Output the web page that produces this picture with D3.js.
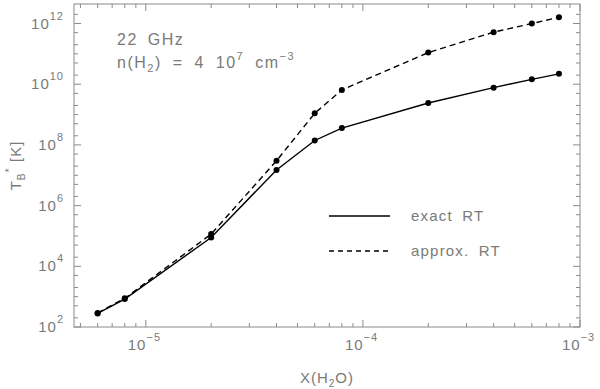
<!DOCTYPE html>
<html>
<head>
<meta charset="utf-8">
<script src="https://cdn.jsdelivr.net/npm/d3@7"></script>
<style>
  body { margin: 0; background: #fff; }
  text { font-family: "Liberation Sans", "DejaVu Sans", sans-serif; fill: #7a7a7a; }
</style>
</head>
<body>
<div id="chart"></div>
<script>
// abundances X(H2O)
var xvals = [6e-6, 8e-6, 2e-5, 4e-5, 6e-5, 8e-5, 2e-4, 4e-4, 6e-4, 8e-4];
// brightness temperature, exact radiative transfer
var exact = [2.8e2, 8.3e2, 8.9e4, 1.5e7, 1.4e8, 3.6e8, 2.4e9, 7.7e9, 1.45e10, 2.2e10];
// brightness temperature, approximate radiative transfer
var approx = [2.9e2, 8.8e2, 1.15e5, 3.0e7, 1.1e9, 6.5e9, 1.1e11, 5.2e11, 1.0e12, 1.6e12];

var xMajor = [-5, -4, -3];          // labelled exponents on x
var yMajor = [2, 4, 6, 8, 10, 12];  // labelled exponents on y
var legendNames = ['exact RT', 'approx. RT'];

var width = 600;
var height = 389;

// plot box (note: "top" is a reserved window property, so use p_* names)
var p_left = 74, p_right = 580, p_top = 4, p_bottom = 327;

var x = d3.scaleLog()
    .domain([4.67e-6, 1e-3])
    .range([p_left, p_right]);

var y = d3.scaleLog()
    .domain([1e2, 4.4e12])
    .range([p_bottom, p_top]);

var svg = d3.select('#chart')
  .append('svg')
    .attr('width', width)
    .attr('height', height);

var axisColor = '#8a8a8a';

// frame
svg.append('rect')
    .attr('x', p_left)
    .attr('y', p_top)
    .attr('width', p_right - p_left)
    .attr('height', p_bottom - p_top)
    .attr('fill', 'none')
    .attr('stroke', axisColor)
    .attr('stroke-width', 1);

// x ticks: 1..9 per decade
var xTicks = [];
for(var e = -6; e <= -3; e++) {
    for(var m = 1; m <= 9; m++) {
        var v = m * Math.pow(10, e);
        if(v >= x.domain()[0] && v <= x.domain()[1] * 1.0001) {
            xTicks.push({v: v, major: m == 1});
        }
    }
}

svg.append('g')
    .selectAll('line.xtick-b')
    .data(xTicks)
  .enter()
    .append('line')
    .attr('stroke', axisColor)
    .attr('x1', function(d) { return x(d.v); })
    .attr('x2', function(d) { return x(d.v); })
    .attr('y1', p_bottom)
    .attr('y2', function(d) { return p_bottom - (d.major ? 7 : 4); });

svg.append('g')
    .selectAll('line.xtick-t')
    .data(xTicks)
  .enter()
    .append('line')
    .attr('stroke', axisColor)
    .attr('x1', function(d) { return x(d.v); })
    .attr('x2', function(d) { return x(d.v); })
    .attr('y1', p_top)
    .attr('y2', function(d) { return p_top + (d.major ? 7 : 4); });

// y ticks: 1, 2, 5 per decade, labelled every second decade
var yTicks = [];
for(var e = 2; e <= 12; e++) {
    [1, 2, 5].forEach(function(m) {
        var v = m * Math.pow(10, e);
        if(v <= y.domain()[1]) {
            yTicks.push({v: v, major: m == 1 && yMajor.indexOf(e) >= 0});
        }
    });
}

svg.append('g')
    .selectAll('line.ytick-l')
    .data(yTicks)
  .enter()
    .append('line')
    .attr('stroke', axisColor)
    .attr('y1', function(d) { return y(d.v); })
    .attr('y2', function(d) { return y(d.v); })
    .attr('x1', p_left)
    .attr('x2', function(d) { return p_left + (d.major ? 7 : 4); });

svg.append('g')
    .selectAll('line.ytick-r')
    .data(yTicks)
  .enter()
    .append('line')
    .attr('stroke', axisColor)
    .attr('y1', function(d) { return y(d.v); })
    .attr('y2', function(d) { return y(d.v); })
    .attr('x1', p_right)
    .attr('x2', function(d) { return p_right - (d.major ? 7 : 4); });

// x tick labels
var xl = svg.append('g')
    .selectAll('text.xlab')
    .data(xMajor)
  .enter()
    .append('text')
    .attr('font-size', '15px')
    .attr('letter-spacing', 1)
    .attr('x', function(d) { return x(Math.pow(10, d)) - 18; })
    .attr('y', 350);
xl.append('tspan').text('10');
xl.append('tspan')
    .attr('font-size', '11px')
    .attr('dy', -9)
    .text(function(d) { return '\u2212' + Math.abs(d); });

// y tick labels
var yl = svg.append('g')
    .selectAll('text.ylab')
    .data(yMajor)
  .enter()
    .append('text')
    .attr('font-size', '15px')
    .attr('letter-spacing', 1)
    .style('text-anchor', 'end')
    .attr('x', 64)
    .attr('y', function(d) { return y(Math.pow(10, d)) + 5; });
yl.append('tspan').text('10');
yl.append('tspan')
    .attr('font-size', '11px')
    .attr('dy', -9)
    .text(function(d) { return d; });

// axis titles
var xt = svg.append('text')
    .attr('font-size', '15px')
    .attr('letter-spacing', 1)
    .style('text-anchor', 'middle')
    .attr('x', (p_left + p_right) / 2)
    .attr('y', 383);
xt.append('tspan').text('X(H');
xt.append('tspan').attr('font-size', '10px').attr('dy', 4).text('2');
xt.append('tspan').attr('dy', -4).text('O)');

var yt = svg.append('text')
    .attr('font-size', '15px')
    .attr('letter-spacing', 1)
    .style('text-anchor', 'middle')
    .attr('transform', 'translate(21,' + ((p_top + p_bottom) / 2) + ') rotate(-90)');
yt.append('tspan').text('T');
yt.append('tspan').attr('font-size', '10px').attr('dy', 4).text('B');
yt.append('tspan').attr('font-size', '11px').attr('dy', -12).text('*');
yt.append('tspan').attr('dy', 8).text(' [K]');

// annotation
svg.append('text')
    .attr('font-size', '16px')
    .attr('letter-spacing', 1.5)
    .attr('word-spacing', 4)
    .attr('x', 117)
    .attr('y', 45)
    .text('22 GHz');
var an = svg.append('text')
    .attr('font-size', '16px')
    .attr('letter-spacing', 1.5)
    .attr('word-spacing', 5)
    .attr('x', 117)
    .attr('y', 68);
an.append('tspan').text('n(H');
an.append('tspan').attr('font-size', '11px').attr('dy', 4).text('2');
an.append('tspan').attr('dy', -4).text(') = 4 10');
an.append('tspan').attr('font-size', '11px').attr('dy', -8).text('7');
an.append('tspan').attr('dy', 8).text(' cm');
an.append('tspan').attr('font-size', '11px').attr('dy', -8).text('\u22123');

// series
var line = d3.line()
    .x(function(d) { return x(d[0]); })
    .y(function(d) { return y(d[1]); });

var series = [
    {vals: exact, dash: null},
    {vals: approx, dash: '6,4'}
];

series.forEach(function(s) {
    var pts = xvals.map(function(v, i) { return [v, s.vals[i]]; });
    svg.append('path')
        .datum(pts)
        .attr('fill', 'none')
        .attr('stroke', '#000')
        .attr('stroke-width', 1.4)
        .attr('stroke-dasharray', s.dash)
        .attr('d', line);
    svg.append('g')
        .selectAll('circle')
        .data(pts)
      .enter()
        .append('circle')
        .attr('cx', function(d) { return x(d[0]); })
        .attr('cy', function(d) { return y(d[1]); })
        .attr('r', 3)
        .attr('fill', '#000');
});

// legend
var legend = svg.append('g')
    .selectAll('g.legend')
    .data(legendNames)
  .enter()
    .append('g');
legend.append('line')
    .attr('x1', 329)
    .attr('x2', 390)
    .attr('y1', function(d, i) { return 216 + i * 35; })
    .attr('y2', function(d, i) { return 216 + i * 35; })
    .attr('stroke', '#000')
    .attr('stroke-width', 1.4)
    .attr('stroke-dasharray', function(d, i) { return i == 0 ? null : '5,4'; });
legend.append('text')
    .attr('font-size', '15px')
    .attr('letter-spacing', 1.2)
    .attr('word-spacing', 4)
    .attr('x', 411)
    .attr('y', function(d, i) { return 221 + i * 35; })
    .text(function(d) { return d; });
</script>
</body>
</html>
